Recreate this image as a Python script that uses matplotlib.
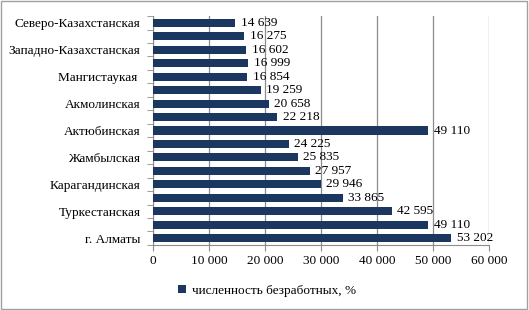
import numpy as np
import matplotlib.pyplot as plt
from matplotlib.ticker import FuncFormatter, FixedLocator

# data, bottom to top
regions = ["г. Алматы", "", "Туркестанская", "", "Карагандинская", "",
           "Жамбылская", "", "Актюбинская", "", "Акмолинская", "",
           "Мангистаукая ", "", "Западно-Казахстанская", "", "Северо-Казахстанская"]
values = [53202, 49110, 42595, 33865, 29946, 27957, 25835, 24225, 49110,
          22218, 20658, 19259, 16854, 16999, 16602, 16275, 14639]
xticks = [0, 10000, 20000, 30000, 40000, 50000, 60000]
series_name = "численность безработных, %"

plt.rcParams['font.family'] = ['Liberation Serif', 'DejaVu Serif']
fs = 9.5
bar_color = "#1B365F"
grid_color = "#8C8C8C"

fig = plt.figure(figsize=(5.29, 3.10), dpi=100)
ax = fig.add_axes([0.289, 0.21, 0.636, 0.738])

y = np.arange(len(values))
bars = ax.barh(y, values, height=0.6, color=bar_color, label=series_name, zorder=3)

def fmt(v):
    return f"{int(v):,}".replace(",", " ")

for yi, v in zip(y, values):
    ax.annotate(fmt(v), (v, yi), xytext=(4, 0), textcoords="offset points",
                va="center", ha="left", fontsize=fs, zorder=4)

ax.set_xlim(0, 60000)
ax.set_ylim(-0.5, len(values) - 0.5)
ax.set_xticks(xticks)
ax.xaxis.set_major_formatter(FuncFormatter(lambda v, p: fmt(v)))
ax.set_yticks(y)
ax.set_yticklabels(regions)
ax.yaxis.set_minor_locator(FixedLocator(np.arange(-0.5, len(values), 1)))
ax.tick_params(axis="y", which="major", length=0, labelsize=fs, pad=9)
ax.tick_params(axis="y", which="minor", length=4, color=grid_color)
ax.tick_params(axis="x", length=4, color=grid_color, labelsize=fs, pad=3)

ax.grid(axis="x", color=grid_color, linewidth=0.9, zorder=0)
for s in ["top", "right"]:
    ax.spines[s].set_visible(False)
for s in ["left", "bottom"]:
    ax.spines[s].set_color(grid_color)

leg = fig.legend(handles=[bars], labels=[series_name], loc="center",
                 bbox_to_anchor=(0.505, 0.062), frameon=False, fontsize=fs,
                 handlelength=0.6, handleheight=0.6, handletextpad=0.4)

fig.patches.append(plt.Rectangle((0.002, 0.003), 0.995, 0.993, transform=fig.transFigure,
                                 fill=False, edgecolor="#A0A0A0", linewidth=1))

fig.savefig("out.png", dpi=100)
